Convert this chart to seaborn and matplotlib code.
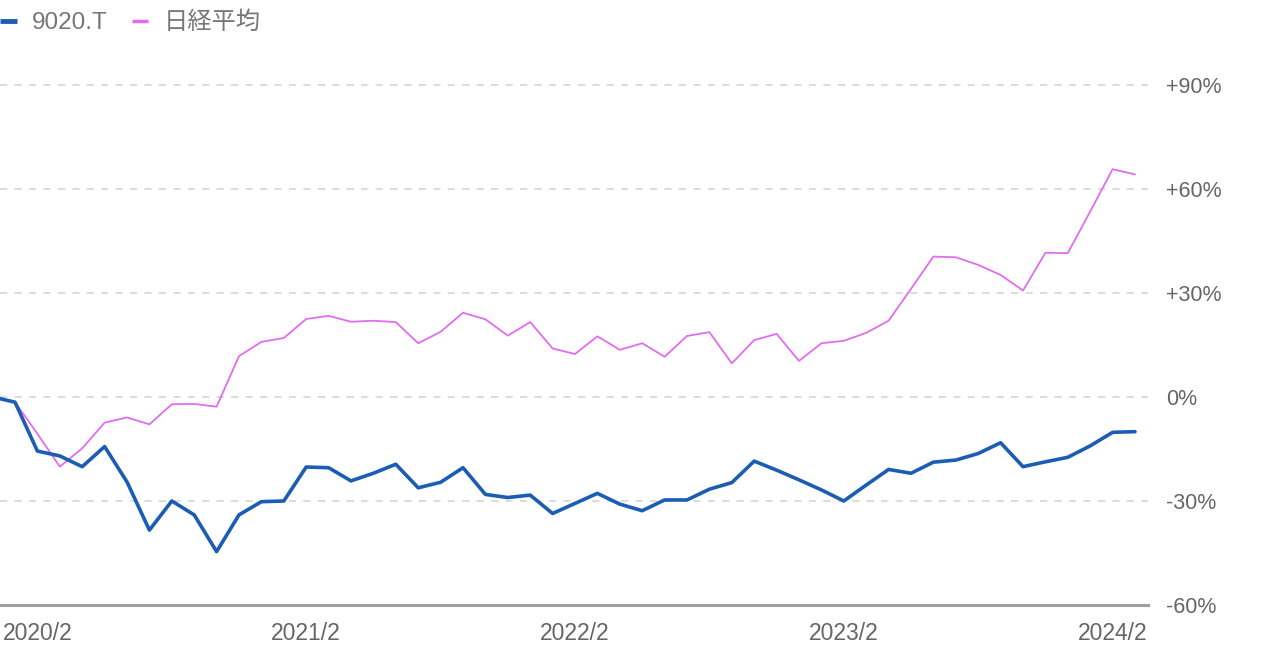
import matplotlib
matplotlib.use("Agg")
import matplotlib.pyplot as plt
import seaborn as sns
import pandas as pd
import numpy as np

# ---- data (percent change vs. start), monthly 2019/12 .. 2024/3 ----
months = [f"{y}/{m}" for y in range(2019, 2025) for m in range(1, 13)]
months = months[months.index("2019/12"):months.index("2024/3") + 1]

jr_east = [0, -1.5, -15.6, -17.0, -20.1, -14.3, -24.5, -38.4, -30.0, -34.0,
           -44.6, -34.0, -30.2, -30.0, -20.2, -20.4, -24.2, -22.0, -19.4, -26.2,
           -24.6, -20.4, -28.1, -29.0, -28.3, -33.6, -30.7, -27.8, -30.9, -32.8,
           -29.7, -29.7, -26.6, -24.7, -18.5, -21.1, -23.9, -26.8, -30.0, -25.4,
           -20.9, -22.0, -18.8, -18.2, -16.3, -13.2, -20.1, -18.7, -17.4, -14.1,
           -10.2, -10.0]
nikkei = [0, -1.5, -10.6, -20.1, -14.8, -7.4, -5.9, -7.9, -2.1, -2.0,
          -2.8, 11.8, 15.9, 17.0, 22.5, 23.4, 21.7, 22.0, 21.6, 15.5,
          18.8, 24.3, 22.4, 17.7, 21.6, 14.0, 12.4, 17.5, 13.6, 15.5,
          11.6, 17.6, 18.7, 9.7, 16.4, 18.2, 10.4, 15.5, 16.2, 18.5,
          22.0, 31.2, 40.5, 40.3, 38.1, 35.2, 30.7, 41.6, 41.5, 53.5,
          65.7, 64.2]
series_names = ["9020.T", "日経平均"]
tick_months = ["2020/2", "2021/2", "2022/2", "2023/2", "2024/2"]
y_ticks = [-60, -30, 0, 30, 60, 90]
y_labels = ["-60%", "-30%", "0%", "+30%", "+60%", "+90%"]

df = pd.DataFrame({
    "idx": list(range(len(months))) * 2,
    "month": months * 2,
    "value": jr_east + nikkei,
    "series": [series_names[0]] * len(months) + [series_names[1]] * len(months),
})

sns.set_theme(style="white")
plt.rcParams["font.family"] = ["Liberation Sans", "Noto Sans CJK JP", "DejaVu Sans"]

W, H = 1279, 655
fig = plt.figure(figsize=(W / 100, H / 100), dpi=100)
ax = fig.add_axes([0, 50 / H, 1148 / W, 545 / H])

palette = {series_names[0]: "#1b5db3", series_names[1]: "#e26cf0"}
sns.lineplot(data=df, x="idx", y="value", hue="series", palette=palette,
             size="series", sizes={series_names[0]: 2.6, series_names[1]: 1.3},
             ax=ax, legend=False, zorder=3)

# put blue on top
ax.lines[0].set_zorder(4)

ax.set_xlim(0.33, 51.58)
ax.set_ylim(-60, 97.2)

for s in ["top", "left", "right"]:
    ax.spines[s].set_visible(False)
ax.spines["bottom"].set_color("#a0a0a0")
ax.spines["bottom"].set_linewidth(2.2)
ax.spines["bottom"].set_zorder(5)

for yv in y_ticks[1:]:
    ax.axhline(yv, color="#d9d9d9", lw=1.3, ls=(0, (4, 4)), zorder=1)

ax.yaxis.tick_right()
ax.set_yticks(y_ticks)
ax.set_yticklabels(y_labels)
ax.tick_params(axis="y", length=0, pad=13, labelsize=15.5, labelcolor="#666666")

ax.set_xticks([months.index(m) for m in tick_months])
ax.set_xticklabels(tick_months)
ax.tick_params(axis="x", length=0, pad=12, labelsize=16.5, labelcolor="#666666")
ax.set_xlabel("")
ax.set_ylabel("")

# legend
from matplotlib.lines import Line2D
handles = [Line2D([], [], color=palette[series_names[0]], lw=3.5, solid_capstyle="butt"),
           Line2D([], [], color=palette[series_names[1]], lw=2.5, solid_capstyle="butt")]
leg = fig.legend(handles, series_names, loc="center left",
                 bbox_to_anchor=(0, 1 - 23 / H), ncol=2, frameon=False,
                 fontsize=17.5, handlelength=0.68, handletextpad=0.62,
                 columnspacing=1.0, borderpad=0, borderaxespad=0)
for t in leg.get_texts():
    t.set_color("#777777")

fig.savefig("out.png", dpi=100)
